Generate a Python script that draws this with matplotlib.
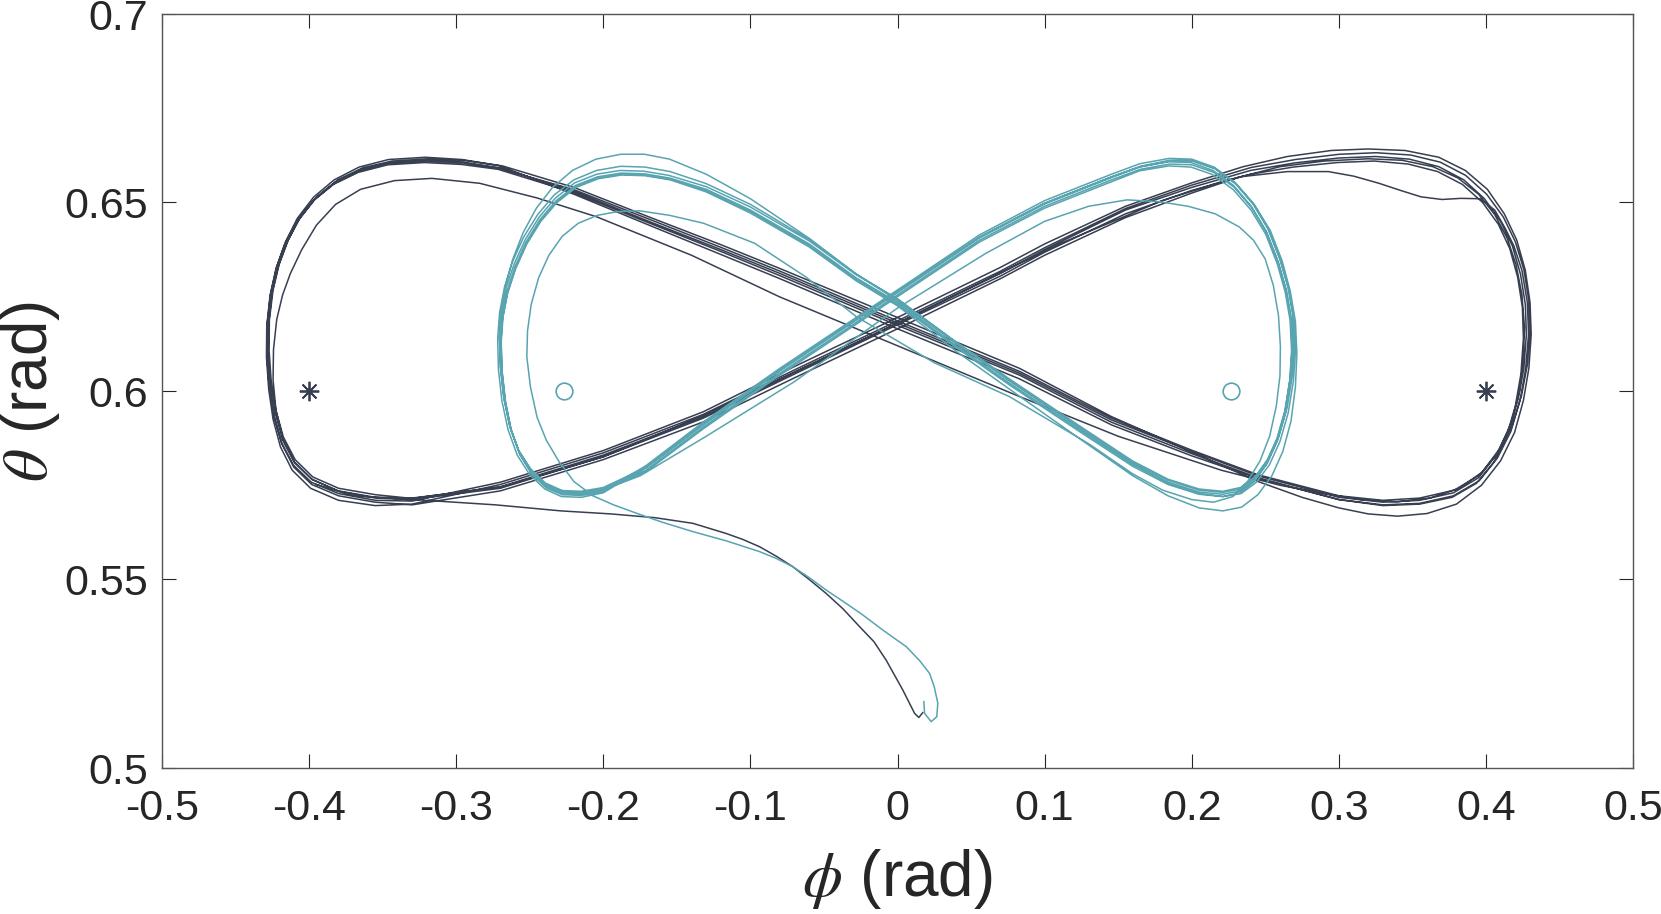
import numpy as np
import matplotlib
matplotlib.use('Agg')
import matplotlib.pyplot as plt

plt.rcParams['font.family'] = ['Liberation Sans', 'DejaVu Sans']
plt.rcParams['mathtext.fontset'] = 'stix'

DARK = '#373F51'
TEAL = '#58A4B0'

# ---- trajectories, (phi, theta) in rad ----
dark_tail = [
    (0.0172, 0.5147), (0.0145, 0.5134), (0.0116, 0.5145), (0.0036, 0.5207),
    (-0.0077, 0.5286), (-0.0160, 0.5335), (-0.0258, 0.5375), (-0.0370, 0.5422),
    (-0.0485, 0.5463), (-0.0600, 0.5500), (-0.0712, 0.5534), (-0.0825, 0.5562),
    (-0.0938, 0.5587), (-0.1050, 0.5606), (-0.1164, 0.5622), (-0.1391, 0.5649),
    (-0.1650, 0.5664), (-0.1950, 0.5674), (-0.2288, 0.5682), (-0.2733, 0.5698),
    (-0.3247, 0.5711),
]
dark_loop1 = [
    (-0.3550, 0.5716), (-0.3800, 0.5734), (-0.3980, 0.5766), (-0.4100, 0.5812),
    (-0.4178, 0.5874), (-0.4225, 0.5948), (-0.4245, 0.6030), (-0.4242, 0.6110),
    (-0.4220, 0.6190), (-0.4180, 0.6255), (-0.4127, 0.6312), (-0.4050, 0.6375),
    (-0.3950, 0.6440), (-0.3820, 0.6495), (-0.3650, 0.6535), (-0.3420, 0.6558),
    (-0.3165, 0.6564), (-0.2841, 0.6551), (-0.2450, 0.6512), (-0.2045, 0.6462),
    (-0.1400, 0.6360), (-0.0803, 0.6250), (0.0000, 0.6120), (0.0800, 0.5990),
    (0.1500, 0.5880), (0.2200, 0.5790), (0.2600, 0.5750), (0.2900, 0.5728),
    (0.3150, 0.5712), (0.3400, 0.5706), (0.3620, 0.5716), (0.3820, 0.5742),
    (0.3975, 0.5785), (0.4090, 0.5845), (0.4175, 0.5918), (0.4228, 0.6000),
    (0.4255, 0.6085), (0.4262, 0.6170), (0.4245, 0.6255), (0.4205, 0.6335),
    (0.4145, 0.6405), (0.4060, 0.6468), (0.3950, 0.6522), (0.3810, 0.6565),
    (0.3640, 0.6595), (0.3430, 0.6612), (0.3200, 0.6616), (0.2900, 0.6610),
    (0.2600, 0.6595), (0.2200, 0.6555), (0.1800, 0.6505), (0.1100, 0.6390),
    (0.0500, 0.6275), (0.0000, 0.6180), (-0.0700, 0.6050), (-0.1350, 0.5930),
    (-0.2000, 0.5825), (-0.2700, 0.5745), (-0.3300, 0.5716),
]
dark_loop2 = [
    (-0.3550, 0.5718), (-0.3800, 0.5735), (-0.3980, 0.5765), (-0.4100, 0.5810),
    (-0.4180, 0.5870), (-0.4230, 0.5940), (-0.4262, 0.6020), (-0.4278, 0.6100),
    (-0.4275, 0.6180), (-0.4252, 0.6260), (-0.4210, 0.6330), (-0.4150, 0.6395),
    (-0.4070, 0.6455), (-0.3960, 0.6510), (-0.3820, 0.6555), (-0.3650, 0.6588),
    (-0.3450, 0.6607), (-0.3200, 0.6613), (-0.2950, 0.6607), (-0.2700, 0.6592),
    (-0.2200, 0.6530), (-0.1665, 0.6446), (-0.1200, 0.6375), (-0.0800, 0.6312),
    (0.0000, 0.6180), (0.0830, 0.6047), (0.1455, 0.5923), (0.2000, 0.5840),
    (0.2450, 0.5775), (0.3000, 0.5718), (0.3300, 0.5705), (0.3550, 0.5710),
    (0.3780, 0.5730), (0.3950, 0.5770), (0.4070, 0.5830), (0.4160, 0.5900),
    (0.4220, 0.5980), (0.4258, 0.6060), (0.4275, 0.6150), (0.4268, 0.6230),
    (0.4235, 0.6310), (0.4180, 0.6385), (0.4100, 0.6450), (0.3990, 0.6510),
    (0.3850, 0.6560), (0.3680, 0.6595), (0.3480, 0.6615), (0.3250, 0.6622),
    (0.3000, 0.6618), (0.2700, 0.6605), (0.2400, 0.6585), (0.2000, 0.6540),
    (0.1550, 0.6480), (0.1000, 0.6375), (0.0700, 0.6312), (0.0000, 0.6180),
    (-0.0700, 0.6050), (-0.1320, 0.5932), (-0.2000, 0.5830), (-0.2700, 0.5746),
    (-0.3300, 0.5715),
]
dark_loop3 = [
    (-0.3550, 0.5725), (-0.3800, 0.5742), (-0.3975, 0.5772), (-0.4095, 0.5818),
    (-0.4175, 0.5878), (-0.4225, 0.5948), (-0.4258, 0.6028), (-0.4272, 0.6108),
    (-0.4270, 0.6188), (-0.4245, 0.6268), (-0.4202, 0.6338), (-0.4140, 0.6402),
    (-0.4058, 0.6462), (-0.3945, 0.6516), (-0.3805, 0.6560), (-0.3635, 0.6592),
    (-0.3435, 0.6610), (-0.3185, 0.6616), (-0.2935, 0.6611), (-0.2685, 0.6597),
    (-0.2200, 0.6540), (-0.1665, 0.6458), (-0.1200, 0.6388), (-0.0800, 0.6325),
    (0.0000, 0.6195), (0.0830, 0.6060), (0.1455, 0.5932), (0.2000, 0.5838),
    (0.2450, 0.5760), (0.2750, 0.5718), (0.3000, 0.5690), (0.3200, 0.5674),
    (0.3400, 0.5668), (0.3600, 0.5675), (0.3800, 0.5700), (0.3970, 0.5750),
    (0.4100, 0.5815), (0.4195, 0.5890), (0.4255, 0.5975), (0.4292, 0.6060),
    (0.4308, 0.6150), (0.4300, 0.6235), (0.4268, 0.6320), (0.4210, 0.6400),
    (0.4125, 0.6470), (0.4010, 0.6535), (0.3860, 0.6585), (0.3680, 0.6620),
    (0.3450, 0.6638), (0.3200, 0.6642), (0.2950, 0.6638), (0.2650, 0.6622),
    (0.2350, 0.6595), (0.2000, 0.6552), (0.1550, 0.6490), (0.1000, 0.6390),
    (0.0700, 0.6328), (0.0000, 0.6195), (-0.0700, 0.6065), (-0.1320, 0.5945),
    (-0.2000, 0.5842), (-0.2700, 0.5758), (-0.3300, 0.5708),
]
dark_loop4 = [
    (-0.3550, 0.5710), (-0.3800, 0.5728), (-0.3985, 0.5758), (-0.4108, 0.5804),
    (-0.4188, 0.5864), (-0.4240, 0.5935), (-0.4272, 0.6016), (-0.4288, 0.6098),
    (-0.4285, 0.6178), (-0.4262, 0.6258), (-0.4220, 0.6330), (-0.4160, 0.6396),
    (-0.4080, 0.6458), (-0.3970, 0.6514), (-0.3830, 0.6560), (-0.3660, 0.6594),
    (-0.3460, 0.6614), (-0.3210, 0.6620), (-0.2960, 0.6614), (-0.2710, 0.6598),
    (-0.2200, 0.6522), (-0.1665, 0.6436), (-0.1200, 0.6362), (-0.0800, 0.6298),
    (0.0000, 0.6165), (0.0830, 0.6032), (0.1455, 0.5910), (0.2000, 0.5828),
    (0.2450, 0.5768), (0.3000, 0.5712), (0.3300, 0.5698), (0.3550, 0.5702),
    (0.3780, 0.5722), (0.3955, 0.5762), (0.4078, 0.5822), (0.4170, 0.5893),
    (0.4232, 0.5975), (0.4270, 0.6058), (0.4290, 0.6150), (0.4282, 0.6235),
    (0.4245, 0.6320), (0.4190, 0.6385), (0.4133, 0.6430), (0.4060, 0.6480),
    (0.3960, 0.6510), (0.3830, 0.6511), (0.3702, 0.6508), (0.3559, 0.6515),
    (0.3420, 0.6532), (0.3273, 0.6551), (0.3100, 0.6570), (0.2929, 0.6582),
    (0.2650, 0.6582), (0.2327, 0.6568), (0.2000, 0.6525), (0.1550, 0.6460),
    (0.1000, 0.6360), (0.0700, 0.6298), (0.0000, 0.6165), (-0.0700, 0.6035),
    (-0.1320, 0.5918), (-0.2000, 0.5818), (-0.2700, 0.5735), (-0.3300, 0.5698),
]
dark_loop5 = [
    (-0.3550, 0.5705), (-0.3800, 0.5722), (-0.3982, 0.5752), (-0.4104, 0.5798),
    (-0.4186, 0.5860), (-0.4238, 0.5932), (-0.4270, 0.6012), (-0.4285, 0.6094),
    (-0.4282, 0.6175), (-0.4258, 0.6255), (-0.4216, 0.6326), (-0.4155, 0.6392),
    (-0.4074, 0.6452), (-0.3964, 0.6507), (-0.3824, 0.6552), (-0.3654, 0.6585),
    (-0.3454, 0.6604), (-0.3204, 0.6610), (-0.2954, 0.6605), (-0.2704, 0.6590),
    (-0.2200, 0.6534), (-0.1665, 0.6452), (-0.1200, 0.6381), (-0.0800, 0.6318),
    (0.0000, 0.6186), (0.0830, 0.6052), (0.1455, 0.5928), (0.2000, 0.5843),
    (0.2450, 0.5778), (0.3000, 0.5722), (0.3300, 0.5710), (0.3550, 0.5716),
    (0.3785, 0.5737), (0.3960, 0.5778), (0.4085, 0.5838), (0.4178, 0.5908),
    (0.4242, 0.5988), (0.4282, 0.6070), (0.4300, 0.6158), (0.4292, 0.6240),
    (0.4258, 0.6322), (0.4200, 0.6396), (0.4118, 0.6462), (0.4005, 0.6522),
    (0.3862, 0.6572), (0.3690, 0.6607), (0.3488, 0.6626), (0.3255, 0.6632),
    (0.3005, 0.6628), (0.2705, 0.6614), (0.2405, 0.6593), (0.2000, 0.6546),
    (0.1550, 0.6484), (0.1000, 0.6380), (0.0700, 0.6318), (0.0000, 0.6186),
    (-0.0700, 0.6056), (-0.1320, 0.5938), (-0.2000, 0.5836), (-0.2700, 0.5752),
    (-0.3300, 0.5700),
]
dark_loop6 = [
    (-0.3550, 0.5696), (-0.3800, 0.5710), (-0.3990, 0.5742), (-0.4115, 0.5790),
    (-0.4195, 0.5852), (-0.4245, 0.5925), (-0.4275, 0.6006), (-0.4290, 0.6090),
    (-0.4288, 0.6172), (-0.4266, 0.6252), (-0.4225, 0.6325), (-0.4165, 0.6390),
    (-0.4085, 0.6450), (-0.3975, 0.6504), (-0.3835, 0.6548), (-0.3665, 0.6580),
    (-0.3465, 0.6600), (-0.3215, 0.6606), (-0.2965, 0.6601), (-0.2715, 0.6588),
    (-0.2200, 0.6526), (-0.1665, 0.6442), (-0.1200, 0.6370), (-0.0800, 0.6306),
    (0.0000, 0.6174), (0.0830, 0.6042), (0.1455, 0.5917), (0.2000, 0.5834),
    (0.2450, 0.5770), (0.3000, 0.5712), (0.3300, 0.5696), (0.3550, 0.5700),
    (0.3770, 0.5718), (0.3935, 0.5755), (0.4055, 0.5812), (0.4140, 0.5880),
    (0.4200, 0.5960), (0.4238, 0.6045), (0.4255, 0.6140), (0.4248, 0.6222),
    (0.4216, 0.6302), (0.4162, 0.6378), (0.4085, 0.6442), (0.3978, 0.6500),
    (0.3840, 0.6548), (0.3672, 0.6582), (0.3472, 0.6602), (0.3240, 0.6610),
    (0.2990, 0.6606), (0.2690, 0.6594), (0.2400, 0.6575), (0.2000, 0.6532),
    (0.1550, 0.6470), (0.1000, 0.6368), (0.0700, 0.6305), (0.0000, 0.6176),
    (-0.0700, 0.6045), (-0.1320, 0.5928), (-0.2000, 0.5826), (-0.2700, 0.5742),
    (-0.3300, 0.5712), (-0.3700, 0.5722), (-0.3950, 0.5752),
]

teal_tail = [
    (0.0179, 0.5176), (0.0184, 0.5145), (0.0229, 0.5123), (0.0267, 0.5136),
    (0.0274, 0.5172), (0.0250, 0.5215), (0.0218, 0.5251), (0.0150, 0.5285),
    (0.0059, 0.5322), (-0.0100, 0.5366), (-0.0250, 0.5410), (-0.0370, 0.5442),
    (-0.0485, 0.5472), (-0.0600, 0.5505), (-0.0712, 0.5534), (-0.0825, 0.5556),
    (-0.0938, 0.5574), (-0.1160, 0.5602), (-0.1391, 0.5627), (-0.1600, 0.5652),
    (-0.1776, 0.5676), (-0.1930, 0.5698), (-0.2071, 0.5722),
]
teal_inner = [
    (-0.2200, 0.5760), (-0.2300, 0.5812), (-0.2388, 0.5870), (-0.2450, 0.5930),
    (-0.2495, 0.6010), (-0.2520, 0.6091), (-0.2515, 0.6160), (-0.2490, 0.6230),
    (-0.2440, 0.6300), (-0.2370, 0.6360), (-0.2280, 0.6410), (-0.2170, 0.6445),
    (-0.2040, 0.6466), (-0.1900, 0.6476), (-0.1754, 0.6478), (-0.1550, 0.6466),
    (-0.1319, 0.6445), (-0.0972, 0.6392), (-0.0625, 0.6303), (-0.0279, 0.6197),
    (0.0250, 0.6075), (0.0761, 0.5985), (0.1300, 0.5860), (0.1600, 0.5780),
    (0.1802, 0.5737), (0.2000, 0.5712), (0.2148, 0.5705), (0.2280, 0.5720),
    (0.2380, 0.5760), (0.2465, 0.5815), (0.2530, 0.5880), (0.2575, 0.5960),
    (0.2600, 0.6040), (0.2603, 0.6118), (0.2590, 0.6200), (0.2555, 0.6280),
    (0.2500, 0.6350), (0.2420, 0.6400), (0.2324, 0.6435), (0.2160, 0.6470),
    (0.1976, 0.6490), (0.1780, 0.6502), (0.1560, 0.6507), (0.1300, 0.6490),
    (0.1000, 0.6450), (0.0600, 0.6365), (0.0000, 0.6220), (-0.0700, 0.6025),
    (-0.1300, 0.5880), (-0.1750, 0.5775),
]
teal_loop1 = [
    (-0.2000, 0.5738), (-0.2150, 0.5728), (-0.2280, 0.5730), (-0.2390, 0.5748),
    (-0.2490, 0.5785), (-0.2570, 0.5835), (-0.2630, 0.5900), (-0.2670, 0.5975),
    (-0.2693, 0.6055), (-0.2700, 0.6135), (-0.2688, 0.6200), (-0.2655, 0.6265),
    (-0.2600, 0.6330), (-0.2525, 0.6395), (-0.2430, 0.6455), (-0.2320, 0.6505),
    (-0.2190, 0.6545), (-0.2040, 0.6568), (-0.1880, 0.6578), (-0.1720, 0.6576),
    (-0.1550, 0.6565), (-0.1300, 0.6535), (-0.1000, 0.6480), (-0.0600, 0.6390),
    (-0.0280, 0.6300), (0.0000, 0.6235), (0.0400, 0.6120), (0.0761, 0.6021),
    (0.1266, 0.5890), (0.1600, 0.5805), (0.1839, 0.5758), (0.2050, 0.5732),
    (0.2212, 0.5726), (0.2330, 0.5735), (0.2430, 0.5765), (0.2515, 0.5810),
    (0.2585, 0.5870), (0.2640, 0.5945), (0.2675, 0.6030), (0.2688, 0.6110),
    (0.2678, 0.6190), (0.2645, 0.6265), (0.2590, 0.6340), (0.2510, 0.6420),
    (0.2410, 0.6485), (0.2290, 0.6540), (0.2150, 0.6580), (0.2000, 0.6600),
    (0.1850, 0.6602), (0.1650, 0.6588), (0.1455, 0.6560), (0.1000, 0.6490),
    (0.0557, 0.6400), (0.0000, 0.6255), (-0.0800, 0.6047), (-0.1319, 0.5905),
    (-0.1710, 0.5790),
]
teal_loop2 = [
    (-0.2000, 0.5740), (-0.2150, 0.5730), (-0.2280, 0.5733), (-0.2392, 0.5752),
    (-0.2492, 0.5790), (-0.2575, 0.5840), (-0.2635, 0.5905), (-0.2675, 0.5980),
    (-0.2698, 0.6060), (-0.2705, 0.6140), (-0.2695, 0.6210), (-0.2665, 0.6280),
    (-0.2615, 0.6350), (-0.2545, 0.6420), (-0.2455, 0.6485), (-0.2345, 0.6540),
    (-0.2210, 0.6585), (-0.2050, 0.6615), (-0.1880, 0.6628), (-0.1720, 0.6628),
    (-0.1550, 0.6615), (-0.1300, 0.6575), (-0.1000, 0.6510), (-0.0600, 0.6405),
    (-0.0280, 0.6310), (0.0000, 0.6240), (0.0400, 0.6126), (0.0761, 0.6027),
    (0.1266, 0.5896), (0.1600, 0.5810), (0.1839, 0.5763), (0.2050, 0.5737),
    (0.2212, 0.5731), (0.2330, 0.5740), (0.2428, 0.5770), (0.2512, 0.5815),
    (0.2580, 0.5875), (0.2635, 0.5950), (0.2670, 0.6035), (0.2683, 0.6115),
    (0.2673, 0.6195), (0.2640, 0.6270), (0.2585, 0.6345), (0.2505, 0.6425),
    (0.2405, 0.6490), (0.2285, 0.6545), (0.2145, 0.6585), (0.1995, 0.6606),
    (0.1845, 0.6608), (0.1645, 0.6594), (0.1455, 0.6566), (0.1000, 0.6496),
    (0.0557, 0.6406), (0.0000, 0.6261), (-0.0800, 0.6053), (-0.1319, 0.5911),
    (-0.1710, 0.5796),
]
teal_loop3 = [
    (-0.2000, 0.5733), (-0.2150, 0.5723), (-0.2280, 0.5725), (-0.2388, 0.5743),
    (-0.2486, 0.5780), (-0.2565, 0.5830), (-0.2625, 0.5895), (-0.2664, 0.5970),
    (-0.2687, 0.6050), (-0.2694, 0.6130), (-0.2682, 0.6195), (-0.2650, 0.6260),
    (-0.2595, 0.6325), (-0.2520, 0.6390), (-0.2425, 0.6450), (-0.2315, 0.6500),
    (-0.2185, 0.6540), (-0.2035, 0.6563), (-0.1875, 0.6573), (-0.1715, 0.6571),
    (-0.1545, 0.6560), (-0.1300, 0.6528), (-0.1000, 0.6472), (-0.0600, 0.6382),
    (-0.0280, 0.6292), (0.0000, 0.6226), (0.0400, 0.6105), (0.0761, 0.6005),
    (0.1266, 0.5866), (0.1600, 0.5775), (0.1839, 0.5722), (0.2050, 0.5690),
    (0.2212, 0.5682), (0.2340, 0.5692), (0.2450, 0.5725), (0.2545, 0.5775),
    (0.2620, 0.5840), (0.2675, 0.5920), (0.2705, 0.6010), (0.2715, 0.6100),
    (0.2705, 0.6185), (0.2670, 0.6265), (0.2615, 0.6345), (0.2535, 0.6425),
    (0.2430, 0.6492), (0.2305, 0.6548), (0.2160, 0.6590), (0.2000, 0.6612),
    (0.1850, 0.6612), (0.1650, 0.6596), (0.1455, 0.6568), (0.1000, 0.6498),
    (0.0557, 0.6408), (0.0000, 0.6263), (-0.0800, 0.6055), (-0.1319, 0.5912),
    (-0.1710, 0.5797),
]
teal_loop4 = [
    (-0.2000, 0.5744), (-0.2150, 0.5734), (-0.2280, 0.5736), (-0.2394, 0.5756),
    (-0.2495, 0.5794), (-0.2577, 0.5844), (-0.2638, 0.5910), (-0.2678, 0.5985),
    (-0.2700, 0.6065), (-0.2706, 0.6145), (-0.2693, 0.6210), (-0.2660, 0.6275),
    (-0.2605, 0.6338), (-0.2530, 0.6402), (-0.2435, 0.6462), (-0.2325, 0.6512),
    (-0.2195, 0.6552), (-0.2045, 0.6575), (-0.1885, 0.6585), (-0.1725, 0.6583),
    (-0.1555, 0.6572), (-0.1300, 0.6542), (-0.1000, 0.6488), (-0.0600, 0.6398),
    (-0.0280, 0.6308), (0.0000, 0.6244), (0.0400, 0.6130), (0.0761, 0.6032),
    (0.1266, 0.5900), (0.1600, 0.5814), (0.1839, 0.5766), (0.2050, 0.5740),
    (0.2212, 0.5734), (0.2332, 0.5744), (0.2434, 0.5774), (0.2520, 0.5820),
    (0.2592, 0.5880), (0.2648, 0.5955), (0.2684, 0.6040), (0.2697, 0.6120),
    (0.2687, 0.6200), (0.2654, 0.6275), (0.2598, 0.6350), (0.2518, 0.6430),
    (0.2418, 0.6495), (0.2298, 0.6550), (0.2156, 0.6590), (0.2004, 0.6610),
    (0.1852, 0.6610), (0.1652, 0.6595), (0.1455, 0.6568), (0.1000, 0.6498),
    (0.0557, 0.6408), (0.0000, 0.6264), (-0.0800, 0.6056), (-0.1319, 0.5914),
    (-0.1710, 0.5799),
]
teal_loop5 = [
    (-0.2000, 0.5730), (-0.2150, 0.5718), (-0.2285, 0.5720), (-0.2398, 0.5740),
    (-0.2500, 0.5778), (-0.2585, 0.5830), (-0.2648, 0.5898), (-0.2690, 0.5975),
    (-0.2713, 0.6058), (-0.2718, 0.6140), (-0.2705, 0.6208), (-0.2672, 0.6275),
    (-0.2618, 0.6342), (-0.2542, 0.6408), (-0.2446, 0.6468), (-0.2334, 0.6520),
    (-0.2200, 0.6560), (-0.2046, 0.6585), (-0.1882, 0.6596), (-0.1718, 0.6594),
    (-0.1545, 0.6582), (-0.1300, 0.6550), (-0.1000, 0.6495), (-0.0600, 0.6402),
    (-0.0280, 0.6310), (0.0000, 0.6244), (0.0400, 0.6128), (0.0761, 0.6028),
    (0.1266, 0.5895), (0.1600, 0.5806), (0.1839, 0.5756), (0.2050, 0.5728),
    (0.2212, 0.5720), (0.2336, 0.5728), (0.2440, 0.5758), (0.2528, 0.5804),
    (0.2600, 0.5866), (0.2656, 0.5942), (0.2692, 0.6028), (0.2706, 0.6110),
    (0.2696, 0.6192), (0.2662, 0.6270), (0.2605, 0.6348), (0.2522, 0.6430),
    (0.2418, 0.6498), (0.2295, 0.6553), (0.2152, 0.6594), (0.2000, 0.6615),
    (0.1848, 0.6617), (0.1648, 0.6603), (0.1455, 0.6575), (0.1000, 0.6505),
    (0.0557, 0.6414), (0.0000, 0.6268), (-0.0800, 0.6060), (-0.1319, 0.5918),
    (-0.1710, 0.5802),
]
teal_loop6 = [
    (-0.2000, 0.5735), (-0.2150, 0.5726), (-0.2280, 0.5728), (-0.2388, 0.5746),
    (-0.2487, 0.5782), (-0.2567, 0.5832), (-0.2627, 0.5897), (-0.2666, 0.5972),
    (-0.2689, 0.6052), (-0.2696, 0.6132), (-0.2684, 0.6197), (-0.2651, 0.6262),
    (-0.2597, 0.6327), (-0.2522, 0.6392), (-0.2427, 0.6452), (-0.2317, 0.6502),
    (-0.2187, 0.6542), (-0.2037, 0.6565), (-0.1877, 0.6575), (-0.1717, 0.6573),
    (-0.1547, 0.6562), (-0.1300, 0.6532), (-0.1000, 0.6476), (-0.0600, 0.6386),
    (-0.0280, 0.6296), (0.0000, 0.6230), (0.0400, 0.6115), (0.0761, 0.6016),
    (0.1266, 0.5885), (0.1600, 0.5800), (0.1839, 0.5752), (0.2050, 0.5726),
    (0.2212, 0.5720), (0.2328, 0.5730), (0.2426, 0.5760), (0.2510, 0.5806),
    (0.2578, 0.5866), (0.2632, 0.5942), (0.2666, 0.6027), (0.2679, 0.6107),
    (0.2669, 0.6187), (0.2636, 0.6262), (0.2582, 0.6337), (0.2503, 0.6416),
    (0.2403, 0.6480), (0.2283, 0.6534), (0.2143, 0.6574), (0.1995, 0.6594),
    (0.1845, 0.6597), (0.1645, 0.6584), (0.1455, 0.6555), (0.1000, 0.6485),
    (0.0557, 0.6395), (0.0000, 0.6250), (-0.0800, 0.6042), (-0.1319, 0.5900),
    (-0.1710, 0.5786), (-0.2000, 0.5736), (-0.2200, 0.5728), (-0.2380, 0.5745),
]

# equilibrium markers
star_phi = [-0.4, 0.4]
star_theta = [0.6, 0.6]
circ_phi = [-0.227, 0.227]
circ_theta = [0.6, 0.6]

xticks = [-0.5, -0.4, -0.3, -0.2, -0.1, 0, 0.1, 0.2, 0.3, 0.4, 0.5]
xtick_labels = ['-0.5', '-0.4', '-0.3', '-0.2', '-0.1', '0', '0.1', '0.2', '0.3', '0.4', '0.5']
yticks = [0.5, 0.55, 0.6, 0.65, 0.7]
ytick_labels = ['0.5', '0.55', '0.6', '0.65', '0.7']

dark_path = np.array(dark_tail + dark_loop1 + dark_loop2 + dark_loop3 + dark_loop4
                     + dark_loop5 + dark_loop6)
teal_path = np.array(teal_tail + teal_inner + teal_loop1 + teal_loop2 + teal_loop3
                     + teal_loop4 + teal_loop5 + teal_loop6)

fig = plt.figure(figsize=(16.61, 9.14), dpi=100)
ax = fig.add_axes([162 / 1661, 1 - 768 / 914, (1633 - 162) / 1661, (768 - 14) / 914])

ax.plot(dark_path[:, 0], dark_path[:, 1], color=DARK, lw=1.1, solid_joinstyle='round')
ax.plot(teal_path[:, 0], teal_path[:, 1], color=TEAL, lw=1.1, solid_joinstyle='round')

ax.plot(star_phi, star_theta, ls='none', marker=(8, 2, 0), ms=14, mew=1.3, color=DARK)
ax.plot(circ_phi, circ_theta, ls='none', marker='o', ms=12, mew=1.2,
        mfc='none', mec=TEAL)

ax.set_xlim(-0.5, 0.5)
ax.set_ylim(0.5, 0.7)
ax.set_xticks(xticks)
ax.set_xticklabels(xtick_labels)
ax.set_yticks(yticks)
ax.set_yticklabels(ytick_labels)

ax.tick_params(direction='in', top=True, right=True, length=10, width=0.8,
               labelsize=31, colors='#262626')
ax.tick_params(axis='x', pad=15)
ax.tick_params(axis='y', pad=10)
for s in ax.spines.values():
    s.set_color('#555555')
    s.set_linewidth(1.0)

ax.set_xlabel(r'$\phi$ (rad)', fontsize=46, color='#262626')
ax.set_ylabel(r'$\theta$ (rad)', fontsize=46, color='#262626')
ax.xaxis.set_label_coords(0.5, -0.105)
ax.yaxis.set_label_coords(-0.068, 0.5)

fig.savefig('out.png', dpi=100)
